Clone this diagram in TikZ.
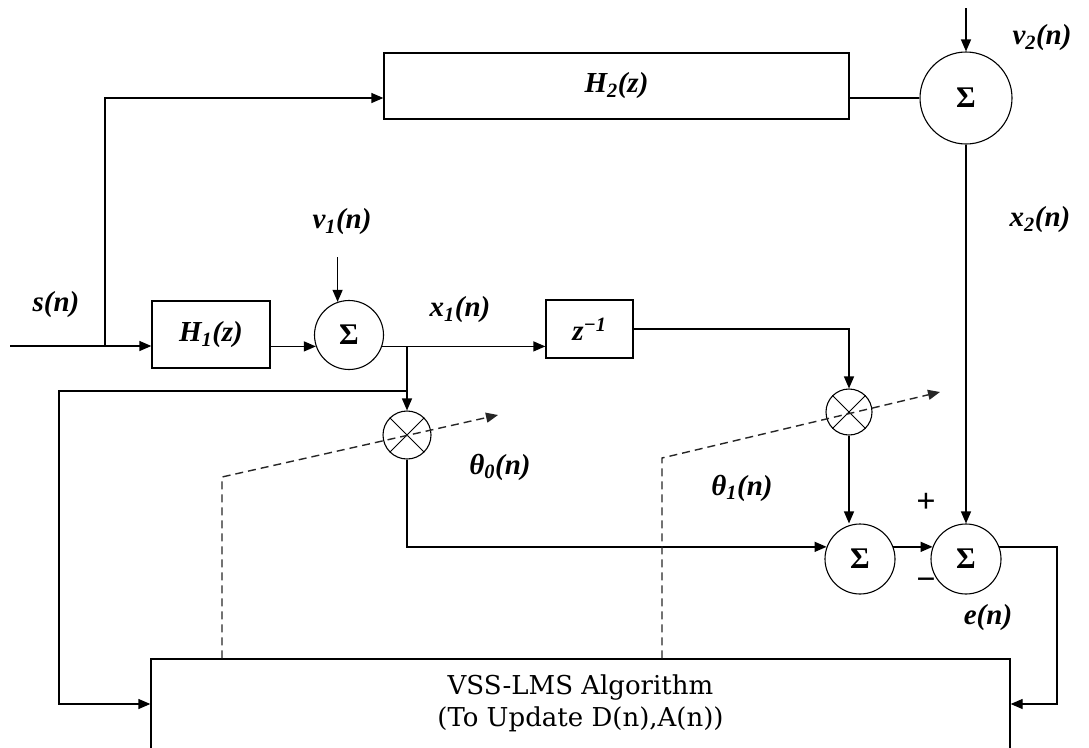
\documentclass[tikz,border=0pt]{standalone}
\usepackage{fontspec}
\setmainfont{Liberation Serif}
\newfontfamily\vssfont{DejaVu Serif}
\usetikzlibrary{arrows.meta,calc}
\begin{document}
\begin{tikzpicture}[x=1pt,y=-1pt, line width=1.3pt,
  arr/.style={-{Triangle[length=12pt,width=10pt]}},
  blk/.style={draw, rectangle, inner sep=0pt, font=\fontsize{29}{29}\selectfont\bfseries\itshape},
  sumn/.style={draw, circle, inner sep=0pt, line width=1.1pt, font=\fontsize{30}{30}\selectfont\bfseries},
  mul/.style={draw, circle, inner sep=0pt, line width=1.1pt},
  lab/.style={font=\fontsize{29}{29}\selectfont\bfseries\itshape, inner sep=0pt},
  sgn/.style={font=\fontsize{34}{34}\selectfont\bfseries, inner sep=0pt},
  dsh/.style={dash pattern=on 8pt off 5pt, line width=1.4pt, draw=black!85},
]
\useasboundingbox (0,0) rectangle (1089,747);
\clip (0,0) rectangle (1089,747);
% blocks
\node[blk, minimum width=465pt, minimum height=66pt] (H2) at (616.5,86) {H\textsubscript{2}(z)};
\node[blk, minimum width=118pt, minimum height=67pt] (H1) at (211,334.5) {H\textsubscript{1}(z)};
\node[blk, minimum width=87pt, minimum height=58pt] (z) at (589.5,329) {z\textsuperscript{−1}};
\node[draw, rectangle, minimum width=859pt, minimum height=160pt] (VSS) at (580.5,739) {};
\node[font=\vssfont\fontsize{26}{32}\selectfont, align=center, anchor=north, inner sep=0pt] (vsst) at (580.5,674) {VSS-LMS Algorithm\\(To Update D(n),A(n))};
% sums and multipliers
\node[sumn, minimum size=92pt] (sum2) at (966,98) {Σ};
\node[sumn, minimum size=69pt] (sum1) at (349,335) {Σ};
\node[mul, minimum size=48pt] (mult1) at (407,435) {};
\node[mul, minimum size=46pt] (mult2) at (849,412) {};
\node[sumn, minimum size=70pt] (sumA) at (860,559) {Σ};
\node[sumn, minimum size=70pt] (sumB) at (966,559) {Σ};
\draw[line width=0.9pt] (mult1.45) -- (mult1.225) (mult1.135) -- (mult1.315);
\draw[line width=0.9pt] (mult2.45) -- (mult2.225) (mult2.135) -- (mult2.315);
% coordinates
\coordinate (in) at (10,346);
\coordinate (sp) at (105,346);
\coordinate (v2in) at (966,8);
\coordinate (v1in) at (338,257);
\coordinate (fb) at (407,391);
\coordinate (lf) at (59,704);
\coordinate (rf) at (1057,704);
\coordinate (c1) at (222,477);
\coordinate (t1) at (498,415);
\coordinate (c2) at (662,458);
\coordinate (t2) at (940,392);
% connectors
\draw[arr] (in) -- (in -| H1.west);
\draw[arr] (sp) |- (sum2 -| H2.west);
\draw (sum2 -| H2.east) -- (sum2.west);
\draw[arr] (v2in) -- (sum2.north);
\draw[arr] (sum2.south) -- (sum2.south |- sumB.north);
\draw[arr] (sum1.199 -| H1.east) -- (sum1.199);
\draw[arr] (sum1.109 |- v1in) -- (sum1.109);
\draw[arr] (sum1.341) -- (sum1.341 -| z.west);
\coordinate (br) at (sum1.341 -| mult1);
\draw[arr] (br) -- (mult1.north);
\draw[arr] (fb) -| (lf) -- (lf -| VSS.west);
\draw[arr] (z.east) -| (mult2.north);
\draw[arr] (mult2.south) -- (mult2.south |- sumA.north);
\draw[arr] (mult1.south) |- (sumA.160);
\draw[arr] (sumA.20) -- (sumB.160);
\draw[arr] (sumB.20) -| (rf) -- (rf -| VSS.east);
% dashed adaptation arrows
\draw[dsh, arr] (c1 |- VSS.north) -- (c1) -- (t1);
\draw[dsh, arr] (c2 |- VSS.north) -- (c2) -- (t2);
% labels
\node[lab] (ls) at (56,305) {s(n)};
\node[lab] (lv1) at (342,222) {ν\textsubscript{1}(n)};
\node[lab] (lx1) at (460,310) {x\textsubscript{1}(n)};
\node[lab] (lt0) at (500,467) {θ\textsubscript{0}(n)};
\node[lab] (lt1) at (742,488) {θ\textsubscript{1}(n)};
\node[lab] (lx2) at (1040,220) {x\textsubscript{2}(n)};
\node[lab] (lv2) at (1042,38) {ν\textsubscript{2}(n)};
\node[sgn] (lp) at (926,503) {+};
\node[sgn] (lm) at (926,584) {−};
\node[lab] (le) at (988,618) {e(n)};
\end{tikzpicture}
\end{document}
